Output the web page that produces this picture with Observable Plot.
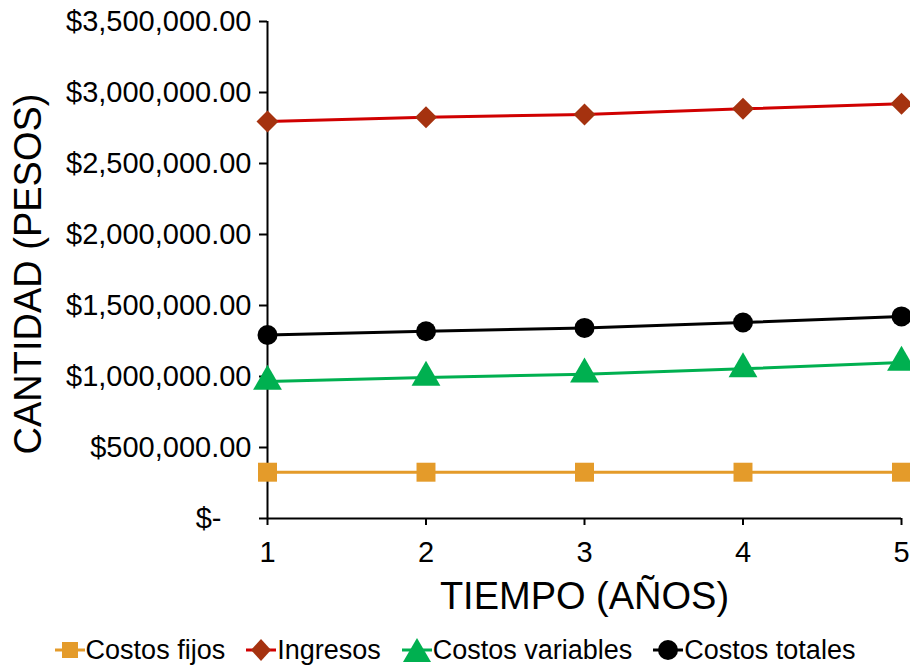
<!DOCTYPE html>
<html><head><meta charset="utf-8">
<script src="https://cdn.jsdelivr.net/npm/d3@7"></script>
<script src="https://cdn.jsdelivr.net/npm/@observablehq/plot@0.6"></script>
<style>
body{margin:0;background:#fff;font-family:"Liberation Sans",Arial,sans-serif;}
#legend{display:flex;justify-content:center;align-items:center;height:60px;gap:21px;font-size:27px;color:#000;}
.item{display:flex;align-items:center;}
.item svg{margin-right:1px;display:block}
</style></head><body><div id="chart"></div><div id="legend"></div>
<script>
const years = [1, 2, 3, 4, 5];
const yTicks = [0, 500000, 1000000, 1500000, 2000000, 2500000, 3000000, 3500000];
const seriesNames = ["Costos fijos", "Ingresos", "Costos variables", "Costos totales"];
const costosFijos = [326000, 326000, 326000, 326000, 326000];
const ingresos = [2796000, 2826000, 2845000, 2885000, 2920000];
const costosVariables = [965000, 993000, 1016000, 1054000, 1099000];
const costosTotales = [1292000, 1319000, 1342000, 1380000, 1423000];

const values = [costosFijos, ingresos, costosVariables, costosTotales];
const lineColors = ["#E49B2A", "#D00000", "#00B050", "#000000"];
const markColors = ["#E49B2A", "#A5320F", "#00B050", "#000000"];
const symbols = ["square", "diamond2", "triangle", "circle"];
const radii = [10.7, 9.9, 10.7, 10];

const rows = [];
seriesNames.forEach((name, k) => values[k].forEach((v, i) => rows.push({serie: name, k, year: years[i], value: v})));

const fmt = d => d === 0 ? "$-\u00a0\u00a0\u00a0\u2009" : "$" + d3.format(",.2f")(d);

const marks = [
  Plot.ruleY([0], {stroke: "#000", strokeWidth: 2}),
  Plot.ruleX([1], {stroke: "#000", strokeWidth: 2}),
  Plot.axisY(yTicks, {tickSize: 8, tickPadding: 8, fontSize: 29, tickFormat: fmt, label: null, strokeWidth: 2}),
  Plot.axisX(years, {tickSize: 7, tickPadding: 16, fontSize: 29, tickFormat: d => String(d), label: null, strokeWidth: 2}),
  Plot.text(["CANTIDAD (PESOS)"], {text: d => d, frameAnchor: "left", rotate: -90, dx: -239, dy: 4, textAnchor: "middle", lineAnchor: "middle", fontSize: 38, fill: "#000"}),
  Plot.text(["TIEMPO (AÑOS)"], {text: d => d, frameAnchor: "bottom", dy: 78, textAnchor: "middle", lineAnchor: "middle", fontSize: 38, fill: "#000"})
];
seriesNames.forEach((name, k) => {
  const d = rows.filter(r => r.k === k);
  marks.push(Plot.line(d, {x: "year", y: "value", stroke: lineColors[k], strokeWidth: 3}));
  marks.push(Plot.dot(d, {x: "year", y: "value", symbol: symbols[k], r: radii[k], fill: markColors[k], stroke: null}));
});

const chart = Plot.plot({
  width: 910, height: 620,
  marginTop: 21, marginBottom: 102, marginLeft: 267, marginRight: 9,
  style: {fontFamily: "'Liberation Sans', Arial, sans-serif", background: "#fff", color: "#000"},
  x: {domain: [1, 5]},
  y: {domain: [0, 3500000]},
  marks
});
document.getElementById("chart").appendChild(chart);

// legend
const shapes = [
  c => `<rect x="7" y="5" width="16" height="16" fill="${c}"/>`,
  c => `<path d="M15 2 L25 13 L15 24 L5 13 Z" fill="${c}"/>`,
  c => `<path d="M15 1 L29 25 L1 25 Z" fill="${c}"/>`,
  c => `<circle cx="15" cy="13" r="10" fill="${c}"/>`
];
const legend = document.getElementById("legend");
seriesNames.forEach((name, k) => {
  const item = document.createElement("div");
  item.className = "item";
  item.innerHTML = `<svg width="30" height="26" viewBox="0 0 30 26"><line x1="0" x2="30" y1="13" y2="13" stroke="${lineColors[k]}" stroke-width="3"/>${shapes[k](markColors[k])}</svg><span>${name}</span>`;
  legend.appendChild(item);
});
</script></body></html>
